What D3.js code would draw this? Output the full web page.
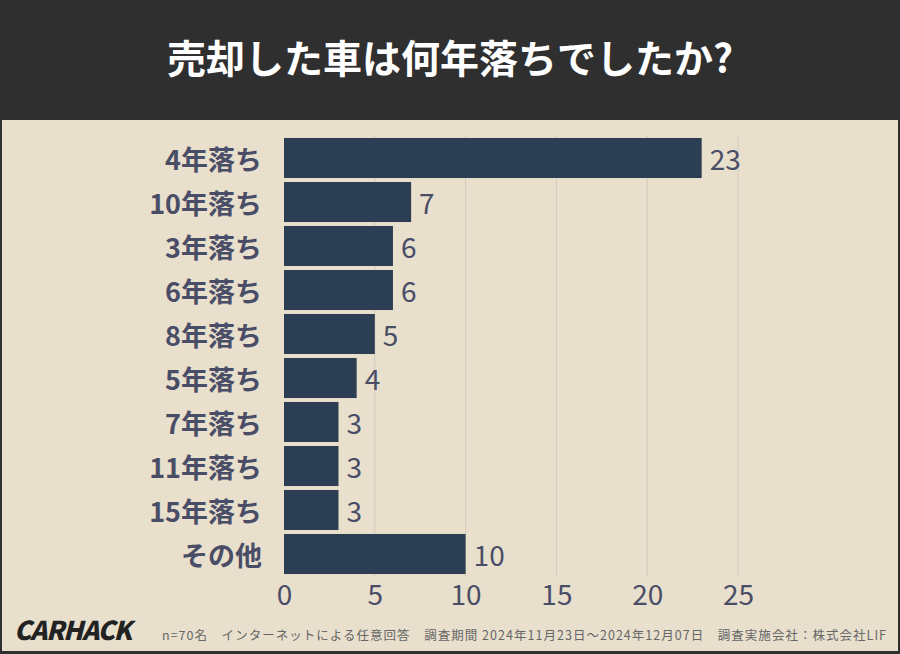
<!DOCTYPE html><html><head><meta charset="utf-8"><script src="https://cdn.jsdelivr.net/npm/d3@7"></script>
<style>body{margin:0}svg{display:block}</style></head><body><svg id="c" width="900" height="654"></svg>
<script>
const categories=["4年落ち","10年落ち","3年落ち","6年落ち","8年落ち","5年落ち","7年落ち","11年落ち","15年落ち","その他"];
const values=[23,7,6,6,5,4,3,3,3,10];
const ticks=[0,5,10,15,20,25];
const title="売却した車は何年落ちでしたか?";
const note="n=70名　インターネットによる任意回答　調査期間 2024年11月23日～2024年12月07日　調査実施会社：株式会社LIF";
const svg=d3.select("#c");
const F="'Noto Sans CJK JP','Noto Sans',sans-serif";
svg.append("rect").attr("width",900).attr("height",654).attr("fill","#2f2f2f");
svg.append("rect").attr("x",2).attr("y",120).attr("width",896).attr("height",531).attr("fill","#e8dfcd");
svg.append("text").attr("x",450).attr("y",62).attr("text-anchor","middle").attr("dominant-baseline","middle").attr("fill","#fff").attr("font-family",F).attr("font-weight",700).attr("font-size",39).text(title);
const x=d3.scaleLinear().domain([0,25]).range([284,738]);
const y=d3.scaleBand().domain(categories).range([136,576]).paddingInner(0.09).paddingOuter(0.045);
svg.append("g").selectAll("line").data(ticks.slice(1)).join("line").attr("x1",d=>x(d)).attr("x2",d=>x(d)).attr("y1",136).attr("y2",576).attr("stroke","#d3cab9").attr("stroke-width",1);
svg.append("g").selectAll("rect").data(values).join("rect").attr("x",x(0)).attr("y",(d,i)=>y(categories[i])).attr("width",d=>x(d)-x(0)).attr("height",y.bandwidth()).attr("fill","#2c3e52");
svg.append("g").selectAll("text").data(values).join("text").attr("x",d=>x(d)+8).attr("y",(d,i)=>y(categories[i])+y.bandwidth()/2).attr("dominant-baseline","central").attr("fill","#4a4d66").attr("font-family",F).attr("font-size",28).text(d=>d);
svg.append("g").selectAll("text").data(categories).join("text").attr("x",262).attr("y",d=>y(d)+y.bandwidth()/2).attr("text-anchor","end").attr("dominant-baseline","central").attr("fill","#4a4d66").attr("font-family",F).attr("font-weight",600).attr("font-size",27).text(d=>d);
const ax=svg.append("g").attr("transform","translate(0,585)").call(d3.axisBottom(x).tickValues(ticks).tickSize(0).tickPadding(0));
ax.select(".domain").remove();
ax.selectAll("text").attr("fill","#4a4d66").attr("font-family",F).attr("font-size",28).attr("dy","0.71em");
svg.append("text").attr("x",14).attr("y",640).attr("fill","#222").attr("font-family",F).attr("font-weight",900).attr("font-style","italic").attr("font-size",26).attr("textLength",118).text("CARHACK");
svg.append("text").attr("x",162).attr("y",640).attr("fill","#666").attr("font-family",F).attr("font-size",12.5).attr("textLength",724).text(note);
</script></body></html>
